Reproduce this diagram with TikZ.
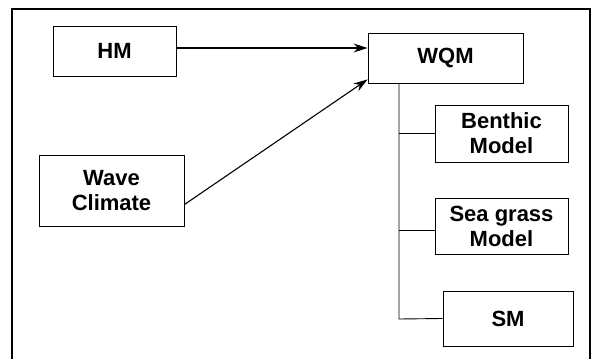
\documentclass[tikz,border=0pt]{standalone}
\usepackage{fontspec}
\setmainfont{Liberation Sans}
\usetikzlibrary{arrows.meta}

\begin{document}
\begin{tikzpicture}[
    x=1pt, y=-1pt,
    every node/.style={font=\bfseries\fontsize{22}{25}\selectfont},
    box/.style={draw, line width=0.9pt, inner sep=0pt, align=center},
    arr/.style={-{Stealth[length=14pt, width=9pt]}, line width=1.1pt},
    link/.style={line width=0.9pt},
]
\useasboundingbox (0, 0) rectangle (598, 359);

% the frame, open at the bottom
\draw[line width=1.8pt] (12, 362) -- (12, 9) -- (590, 9) -- (590, 362);

% the models
\node[box, minimum width=123pt, minimum height=50pt] (hm) at (114.5, 51) {HM};
\node[box, minimum width=145pt, minimum height=71pt] (wave) at (111.5, 190.5) {Wave\\Climate};
\node[box, minimum width=155pt, minimum height=50pt] (wqm) at (445.5, 58) {WQM};
\node[box, minimum width=133pt, minimum height=57pt] (benthic) at (501.5, 133.5) {Benthic\\Model};
\node[box, minimum width=133pt, minimum height=56pt] (seagrass) at (501.5, 226) {Sea grass\\Model};
\node[box, minimum width=130pt, minimum height=55pt] (sm) at (508, 318.5) {SM};

% inputs to WQM
\draw[arr] ([yshift=3pt]hm.east) -- ([yshift=3pt]hm.east -| wqm.west);
\draw[arr] ([yshift=-14pt]wave.east) -- ([yshift=4pt]wqm.south west);

% the tree below WQM
\coordinate (trunk) at (399, 319);
\draw[link] (trunk |- wqm.south) -- (trunk) -- (sm.west);
\draw[link] (trunk |- benthic.west) -- (benthic.west);
\draw[link] ([yshift=-4pt]trunk |- seagrass.west) -- ([yshift=-4pt]seagrass.west);

\end{tikzpicture}
\end{document}
